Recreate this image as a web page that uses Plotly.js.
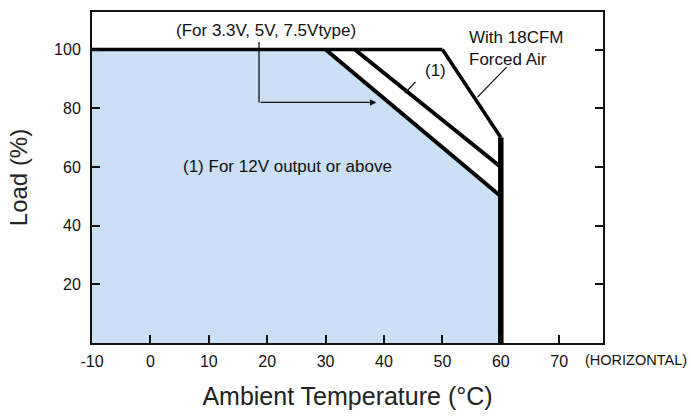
<!DOCTYPE html>
<html>
<head>
<meta charset="utf-8">
<script src="https://cdn.plot.ly/plotly-3.0.1.min.js"></script>
<style>html,body{margin:0;padding:0;background:#fff;}#chart{width:691px;height:418px;}</style>
</head>
<body>
<div id="chart"></div>
<script>
// ---- data ----
const xTickVals = [-10, 0, 10, 20, 30, 40, 50, 60, 70];
const yTickVals = [20, 40, 60, 80, 100];
// safe operating area (3.3V, 5V, 7.5V types)
const areaTemp = [-10, -10, 30, 60, 60];
const areaLoad = [0, 100, 100, 50, 0];
// full-load line
const topTemp = [-10, 50];
const topLoad = [100, 100];
// derating, 3.3V/5V/7.5V
const lowTemp = [30, 60];
const lowLoad = [100, 50];
// derating, 12V output or above
const midTemp = [35, 60];
const midLoad = [100, 60];
// derating with 18CFM forced air
const airTemp = [50, 60];
const airLoad = [100, 70];
// maximum temperature limit
const limTemp = [60, 60];
const limLoad = [0, 70];

const FONT = '"Liberation Sans", Arial, Helvetica, sans-serif';
const BLACK = '#000';

const traces = [
  {x: areaTemp, y: areaLoad, mode: 'lines', fill: 'toself', fillcolor: '#cbe0f4',
   line: {width: 0, color: 'rgba(0,0,0,0)'}, hoverinfo: 'skip', showlegend: false},
  {x: topTemp, y: topLoad, mode: 'lines', line: {color: BLACK, width: 3.5}, showlegend: false},
  {x: lowTemp, y: lowLoad, mode: 'lines', line: {color: BLACK, width: 4}, showlegend: false},
  {x: midTemp, y: midLoad, mode: 'lines', line: {color: BLACK, width: 4}, showlegend: false},
  {x: airTemp, y: airLoad, mode: 'lines', line: {color: BLACK, width: 3.5}, showlegend: false},
  {x: limTemp, y: limLoad, mode: 'lines', line: {color: BLACK, width: 5.5}, showlegend: false}
];

const thin = {color: '#111', width: 1.3};
const layout = {
  width: 691, height: 418,
  margin: {l: 92, r: 88, t: 12, b: 75},
  paper_bgcolor: '#fff', plot_bgcolor: '#fff',
  font: {family: FONT, color: '#111'},
  showlegend: false,
  xaxis: {
    range: [-10, 77.5], tickvals: xTickVals, ticktext: xTickVals.map(String),
    ticks: 'inside', ticklen: 8, tickwidth: 2, tickcolor: '#111',
    showline: true, linecolor: '#111', linewidth: 2, mirror: true,
    showgrid: false, zeroline: false, ticklabelstandoff: 3,
    tickfont: {size: 16, family: FONT, color: '#111'},
    title: {text: 'Ambient Temperature (°C)', font: {size: 25, family: FONT, color: '#222'}, standoff: 18}
  },
  yaxis: {
    range: [0, 112.8], tickvals: yTickVals, ticktext: yTickVals.map(String),
    ticks: 'inside', ticklen: 8, tickwidth: 2, tickcolor: '#111',
    showline: true, linecolor: '#111', linewidth: 2, mirror: 'ticks',
    showgrid: false, zeroline: false, ticklabelstandoff: 6,
    tickfont: {size: 16, family: FONT, color: '#111'},
    title: {text: 'Load (%)', font: {size: 24, family: FONT, color: '#222'}, standoff: 20}
  },
  shapes: [
    {type: 'line', xref: 'x', yref: 'y', x0: 18.6, y0: 102.6, x1: 18.6, y1: 82, line: thin},
    {type: 'line', xref: 'x', yref: 'y', x0: 45.4, y0: 89.0, x1: 43.6, y1: 85.2, line: thin},
    {type: 'line', xref: 'x', yref: 'y', x0: 61.0, y0: 94.0, x1: 56.0, y1: 83.8, line: thin}
  ],
  annotations: [
    {text: '(For 3.3V, 5V, 7.5Vtype)', x: 19.8, y: 106.6, xref: 'x', yref: 'y', showarrow: false,
     font: {size: 17}, xanchor: 'center', yanchor: 'middle'},
    {text: '', x: 38.7, y: 82, ax: 18.6, ay: 82, axref: 'x', ayref: 'y', xref: 'x', yref: 'y',
     showarrow: true, arrowhead: 2, arrowsize: 1, arrowwidth: 1.3, arrowcolor: '#111', standoff: 0, startstandoff: 0},
    {text: '(1) For 12V output or above', x: 23.4, y: 60, xref: 'x', yref: 'y', showarrow: false,
     font: {size: 17}, xanchor: 'center', yanchor: 'middle'},
    {text: '(1)', x: 48.8, y: 92.9, xref: 'x', yref: 'y', showarrow: false,
     font: {size: 17}, xanchor: 'center', yanchor: 'middle'},
    {text: 'With 18CFM<br>Forced Air', x: 54.2, y: 100.5, xref: 'x', yref: 'y', showarrow: false,
     font: {size: 17}, xanchor: 'left', yanchor: 'middle', align: 'left'},
    {text: '(HORIZONTAL)', x: 1.064, y: -0.052, xref: 'paper', yref: 'paper', showarrow: false,
     font: {size: 14.5}, xanchor: 'center', yanchor: 'middle'}
  ]
};

Plotly.newPlot('chart', traces, layout, {displayModeBar: false, staticPlot: true});
</script>
</body>
</html>
